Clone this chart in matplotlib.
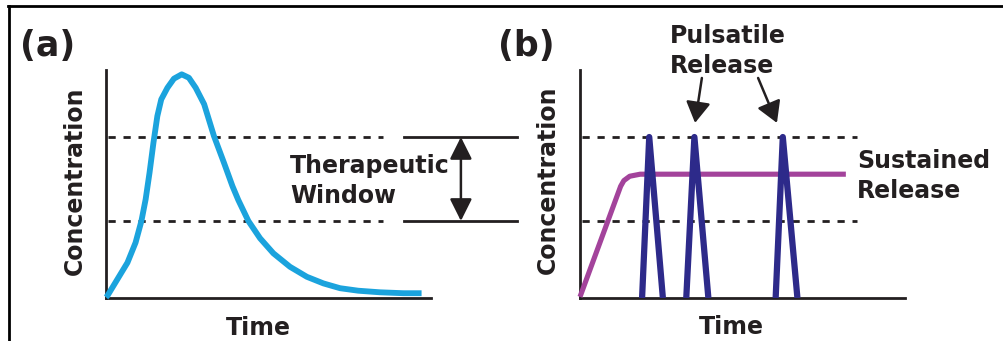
import matplotlib.pyplot as plt
from matplotlib.lines import Line2D

W, H = 1004, 341
DARK = '#231F20'

# panel (a): single dose, concentration vs time (arbitrary units 0-100)
time_a = [0, 0.4, 3.5, 6.6, 9.1, 10.9, 12.2, 13.4, 14.6, 15.8, 17.0, 18.9, 20.9,
          23.3, 25.5, 27.6, 30.2, 33.2, 36.3, 38.9, 40.7, 43.8, 47.4, 51.5, 56.6,
          61.8, 66.9, 72.0, 77.6, 84.3, 91.5, 97.1]
conc_a = [0.3, 0.9, 8.2, 15.5, 24.3, 33.8, 43.3, 55.0, 68.1, 79.8, 87.1, 92.2, 96.2,
          98.1, 96.6, 92.2, 85.0, 71.1, 59.3, 49.1, 43.0, 33.8, 26.2, 19.6, 13.7,
          9.3, 6.4, 4.3, 3.2, 2.5, 2.1, 2.1]

# therapeutic window limits
upper_limit = 70.6
lower_limit = 33.8

# panel (b): sustained release
time_sus = [0, 12.5, 13.5, 15.3, 18.5, 81.8]
conc_sus = [0.5, 49.0, 51.5, 53.4, 54.3, 54.3]

# panel (b): pulsatile release (start, peak, end times)
pulse_start = [19.1, 32.7, 60.2]
pulse_peak = [21.3, 35.2, 62.4]
pulse_end = [25.5, 39.5, 66.9]
pulse_height = 70.6

plt.rcParams['font.family'] = 'DejaVu Sans'
plt.rcParams['font.weight'] = 'bold'

fig = plt.figure(figsize=(W / 100, H / 100), dpi=100)


def fx(px):
    return px / W


def fy(py):
    return 1 - py / H


# frame lines (top and left) of the original figure
fig.add_artist(Line2D([fx(8), fx(1003)], [fy(5.7), fy(5.7)], lw=2, color='black'))
fig.add_artist(Line2D([fx(8.7), fx(8.7)], [fy(5.7), fy(341)], lw=2, color='black'))

ax_a = fig.add_axes([fx(106), fy(298), 325 / W, 228 / H])
ax_b = fig.add_axes([fx(580), fy(298), 325 / W, 228 / H])

for ax in (ax_a, ax_b):
    ax.set_xlim(0, 100)
    ax.set_ylim(0, 100)
    ax.set_xticks([])
    ax.set_yticks([])
    ax.spines['top'].set_visible(False)
    ax.spines['right'].set_visible(False)
    for s in ('left', 'bottom'):
        ax.spines[s].set_linewidth(2.0)
        ax.spines[s].set_color(DARK)
        ax.spines[s].set_capstyle('projecting')
    ax.patch.set_alpha(0)
    for lvl in (upper_limit, lower_limit):
        ax.plot([0.6, 85.2], [lvl, lvl], color=DARK, lw=2.0,
                ls=(0, (2.6, 2.8)), zorder=1)

# (a) curve
ax_a.plot(time_a, conc_a, color='#1BA3DD', lw=4.2, solid_capstyle='butt',
          solid_joinstyle='round', clip_on=False, zorder=3)

# therapeutic window bracket
for lvl in (upper_limit, lower_limit):
    ax_a.plot([91.7, 126.5], [lvl, lvl], color=DARK, lw=2.0, clip_on=False)
ax_a.annotate('', xy=(109.2, lower_limit), xytext=(109.2, upper_limit),
              arrowprops=dict(arrowstyle='<|-|>,head_length=0.9,head_width=0.45',
                              lw=1.8, color=DARK, shrinkA=0, shrinkB=0,
                              mutation_scale=15),
              annotation_clip=False)

# (b) sustained release
ax_b.plot(time_sus, conc_sus, color='#A3439B', lw=3.7, solid_capstyle='butt',
          solid_joinstyle='round', clip_on=False, zorder=3)

# (b) pulses
for t0, tp, t1 in zip(pulse_start, pulse_peak, pulse_end):
    ax_b.plot([t0, tp, t1], [0, pulse_height, 0], color='#2D2A8A', lw=4.5,
              solid_joinstyle='round', solid_capstyle='butt', zorder=4)

# arrows to pulses
arrow_kw = dict(arrowstyle='-|>,head_length=0.85,head_width=0.5', lw=1.8,
                color=DARK, shrinkA=0, shrinkB=0, mutation_scale=15)
ax_b.annotate('', xy=(35.4, 76.8), xytext=(37.5, 96.5), arrowprops=arrow_kw,
              annotation_clip=False)
ax_b.annotate('', xy=(60.6, 76.8), xytext=(54.8, 96.5), arrowprops=arrow_kw,
              annotation_clip=False)

# texts
fs = 17
fig.text(fx(20), fy(46), '(a)', fontsize=25, ha='left', va='center', color=DARK)
fig.text(fx(498), fy(46), '(b)', fontsize=25, ha='left', va='center', color=DARK)
fig.text(fx(75), fy(181), 'Concentration', fontsize=fs, rotation=90,
         ha='center', va='center', color=DARK)
fig.text(fx(547.5), fy(180), 'Concentration', fontsize=fs, rotation=90,
         ha='center', va='center', color=DARK)
fig.text(fx(258), fy(335), 'Time', fontsize=fs, ha='center', va='baseline', color=DARK)
fig.text(fx(731), fy(334), 'Time', fontsize=fs, ha='center', va='baseline', color=DARK)
fig.text(fx(290), fy(173), 'Therapeutic', fontsize=fs, ha='left', va='baseline', color=DARK)
fig.text(fx(290), fy(203), 'Window', fontsize=fs, ha='left', va='baseline', color=DARK)
fig.text(fx(670), fy(43), 'Pulsatile', fontsize=fs, ha='left', va='baseline', color=DARK)
fig.text(fx(670), fy(73), 'Release', fontsize=fs, ha='left', va='baseline', color=DARK)
fig.text(fx(857), fy(168), 'Sustained', fontsize=fs, ha='left', va='baseline', color=DARK)
fig.text(fx(857), fy(198), 'Release', fontsize=fs, ha='left', va='baseline', color=DARK)

fig.savefig('out.png', dpi=100)
